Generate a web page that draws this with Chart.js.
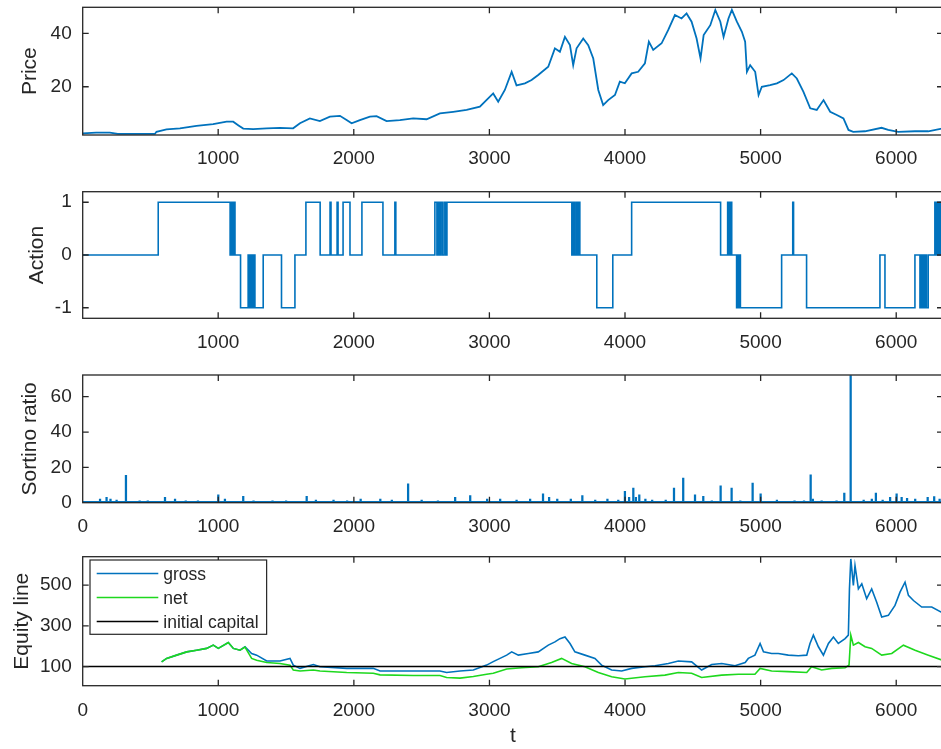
<!DOCTYPE html>
<html>
<head>
<meta charset="utf-8">
<title>Trading panels</title>
<script src="https://cdn.jsdelivr.net/npm/chart.js@4.4.1/dist/chart.umd.min.js"></script>
<style>
  html, body { margin: 0; padding: 0; background: #fff; overflow: hidden; width: 941px; height: 749px; }
  canvas { position: absolute; left: 0; top: 0; }
</style>
</head>
<body>
<canvas id="pPrice" width="960" height="749"></canvas>
<canvas id="pAction" width="960" height="749"></canvas>
<canvas id="pSortino" width="960" height="749"></canvas>
<canvas id="pEquity" width="960" height="749"></canvas>
<script>
// axis ticks
const X_MAX = 6345;
const xTicksTop = [1000, 2000, 3000, 4000, 5000, 6000];
const xTicksBottom = [0, 1000, 2000, 3000, 4000, 5000, 6000];
const priceTicks = [20, 40];
const actionTicks = [-1, 0, 1];
const sortinoTicks = [0, 20, 40, 60];
const equityTicks = [100, 300, 500];

// price
const priceT = [0, 100, 201, 260, 533, 545, 619, 718, 840, 963, 1062, 1111, 1150, 1185, 1258, 1357, 1455, 1553, 1603, 1676,
  1750, 1824, 1898, 1947, 1984, 2045, 2119, 2168, 2242, 2340, 2438, 2537, 2635, 2733, 2832, 2930, 2967, 3028, 3065, 3114,
  3164, 3200, 3262, 3311, 3360, 3434, 3483, 3520, 3557, 3594, 3618, 3643, 3692, 3729, 3766, 3803, 3839, 3876, 3926, 3962,
  3999, 4049, 4097, 4147, 4176, 4208, 4270, 4319, 4368, 4417, 4454, 4491, 4528, 4557, 4580, 4629, 4666, 4703, 4727, 4763,
  4788, 4825, 4862, 4886, 4899, 4923, 4960, 4985, 5009, 5070, 5120, 5169, 5230, 5267, 5316, 5366, 5414, 5464, 5513, 5562,
  5611, 5648, 5683, 5769, 5892, 5941, 6015, 6138, 6236, 6345];
const priceV = [2.5, 2.8, 2.8, 2.3, 2.3, 3.1, 4.0, 4.4, 5.3, 6.0, 6.9, 6.9, 5.5, 4.3, 4.1, 4.4, 4.6, 4.4, 6.3, 8.1,
  7.1, 8.8, 9.1, 7.5, 6.3, 7.5, 8.8, 9.0, 7.1, 7.5, 8.1, 7.8, 10.0, 10.6, 11.3, 12.5, 14.4, 17.5, 14.4, 18.8,
  25.6, 20.5, 21.3, 22.5, 24.4, 27.5, 34.4, 33.1, 38.7, 35.6, 28.1, 34.4, 38.1, 35.6, 30.6, 18.8, 13.1, 15.0, 16.9, 21.9,
  21.3, 25.0, 25.6, 28.8, 36.9, 33.8, 36.3, 41.3, 46.9, 45.6, 47.5, 44.4, 38.1, 30.6, 39.4, 43.1, 48.8, 44.4, 38.7, 45.6,
  48.8, 44.4, 40.6, 36.9, 25.6, 28.1, 25.6, 16.9, 20.0, 20.6, 21.3, 22.5, 25.0, 23.1, 18.1, 11.9, 11.3, 15.0, 10.6, 9.4,
  8.1, 3.8, 3.1, 3.3, 4.6, 3.8, 3.1, 3.3, 3.3, 4.4];

// action: value switches to actV[i] at time actT[i]
const actT = [1, 558, 1088, 1094, 1100, 1106, 1112, 1118, 1124, 1165,
  1221, 1228, 1235, 1242, 1250, 1257, 1264, 1271, 1332, 1467,
  1566, 1647, 1752, 1825, 1832, 1877, 1884, 1921, 1972, 2060,
  2215, 2303, 2310, 2598, 2613, 2620, 2630, 2640, 2652, 2665,
  2677, 2687, 3608, 3618, 3628, 3640, 3650, 3660, 3667, 3792,
  3910, 4049, 4705, 4757, 4763, 4769, 4775, 4781, 4787, 4823,
  4830, 4837, 4844, 4851, 5155, 5237, 5243, 5339, 5880, 5917,
  6138, 6175, 6183, 6191, 6199, 6207, 6215, 6223, 6236, 6285,
  6292, 6299, 6306, 6313, 6320, 6327, 6334, 6341, 6345];
const actV = [0, 1, 0, 1, 0, 1, 0, 1, 0, -1,
  0, -1, 0, -1, 0, -1, 0, -1, 0, -1,
  0, 1, 0, 1, 0, 1, 0, 1, 0, 1,
  0, 1, 0, 1, 0, 1, 0, 1, 0, 1,
  0, 1, 0, 1, 0, 1, 0, 1, 0, -1,
  0, 1, 0, 1, 0, 1, 0, 1, 0, -1,
  0, -1, 0, -1, 0, 1, 0, -1, 0, -1,
  0, -1, 0, -1, 0, -1, 0, -1, 0, 1,
  0, 1, 0, 1, 0, 1, 0, 1, 1];

// sortino ratio spikes and the near-zero floor
const sortT = [128, 176, 205, 250, 319, 420, 480, 607, 681, 760, 850, 1000, 1049, 1184, 1260, 1400, 1500, 1652, 1720, 1850,
  1950, 2050, 2195, 2280, 2400, 2500, 2620, 2747, 2858, 2983, 3079, 3200, 3300, 3395, 3440, 3500, 3600, 3685, 3780, 3870,
  3950, 3999, 4030, 4061, 4080, 4105, 4150, 4200, 4300, 4361, 4429, 4516, 4577, 4640, 4705, 4786, 4850, 4941, 5000, 5120,
  5250, 5320, 5369, 5385, 5450, 5560, 5617, 5664, 5760, 5820, 5850, 5900, 5955, 6003, 6040, 6080, 6140, 6232, 6280, 6320];
const sortV = [2, 3, 2, 1.5, 15.5, 1, 1, 3, 2, 1, 1, 4.5, 2, 3.6, 1, 1, 1, 3.6, 1.5, 1.5,
  1, 2, 2, 1.5, 10.7, 1.5, 1, 3, 4, 2, 2, 1.5, 2, 5, 3, 2, 2, 4, 1.5, 2,
  1.5, 6.4, 3, 8.3, 3, 4.5, 2, 1.5, 1.5, 8.3, 14, 4.5, 3.6, 1, 9.6, 8.3, 1, 11.1, 5, 1.5,
  1, 1, 15.8, 2, 1, 1, 5.5, 72, 1.5, 2, 5.5, 1.5, 3, 5, 3, 2.5, 2, 3, 3.5, 2];
const sortFloor = 0.4;

// equity lines
const grossT = [582, 619, 693, 767, 840, 914, 963, 1000, 1074, 1111, 1160, 1197, 1246, 1283, 1357, 1455, 1529, 1553, 1603, 1701,
  1750, 1947, 2143, 2193, 2438, 2635, 2684, 2783, 2881, 2979, 3028, 3127, 3164, 3213, 3287, 3360, 3434, 3483, 3520, 3557,
  3594, 3630, 3704, 3778, 3827, 3901, 3975, 4049, 4147, 4221, 4319, 4393, 4491, 4565, 4639, 4713, 4811, 4886, 4909, 4958,
  4996, 5021, 5081, 5130, 5204, 5278, 5340, 5364, 5389, 5426, 5463, 5500, 5537, 5573, 5623, 5647, 5655, 5665, 5684, 5696,
  5721, 5746, 5782, 5819, 5856, 5893, 5942, 5991, 6028, 6065, 6090, 6127, 6188, 6262, 6345];
const grossV = [123, 140, 156, 172, 180, 189, 205, 189, 218, 189, 180, 197, 164, 156, 127, 127, 140, 107, 91, 110,
  99, 91, 91, 78, 78, 78, 71, 78, 83, 107, 124, 156, 172, 156, 164, 172, 205, 221, 237, 245,
  213, 172, 156, 140, 107, 83, 78, 91, 99, 104, 115, 127, 123, 83, 110, 115, 104, 120, 140, 156,
  213, 172, 164, 164, 156, 153, 156, 213, 254, 197, 156, 213, 245, 213, 237, 254, 481, 628, 498, 595,
  481, 506, 433, 481, 416, 343, 351, 400, 465, 514, 449, 424, 392, 392, 362];
const netT = [582, 619, 693, 767, 840, 914, 963, 1000, 1074, 1111, 1160, 1197, 1246, 1283, 1357, 1455, 1529, 1553, 1603, 1701,
  1750, 1947, 2143, 2193, 2438, 2635, 2684, 2783, 2881, 2979, 3028, 3127, 3237, 3360, 3458, 3532, 3606, 3704, 3803, 3901,
  3999, 4147, 4294, 4393, 4491, 4565, 4713, 4836, 4958, 4996, 5081, 5204, 5340, 5376, 5450, 5525, 5623, 5652, 5665, 5684,
  5721, 5770, 5819, 5893, 5967, 6053, 6139, 6237, 6345];
const netV = [123, 140, 156, 172, 180, 189, 205, 189, 218, 189, 180, 195, 140, 131, 120, 115, 107, 83, 78, 83,
  78, 71, 67, 59, 56, 56, 46, 43, 51, 62, 67, 88, 94, 99, 120, 140, 115, 99, 71, 50,
  39, 50, 58, 71, 67, 46, 58, 62, 62, 91, 78, 75, 71, 99, 83, 91, 94, 107, 254, 205,
  218, 197, 189, 156, 164, 205, 180, 156, 130];
const initialCapital = 100;

const FONT = '"Liberation Sans", Helvetica, Arial, sans-serif';
const AX = '#262626';
const BLUE = '#0072BD';
const GREEN = '#1ed81e';
const TICK_PX = 19;
const LEGEND_PX = 17.5;
const TITLE_PX = 21;
const CANVAS_W = 960, CANVAS_H = 749;
const PLOT_LEFT = 82.7, PLOT_RIGHT = 943;

function pts(xs, ys) {
  return xs.map((x, i) => ({x: x, y: ys[i]}));
}

// box round the axes with inward ticks on all four sides
const matlabBox = {
  id: 'matlabBox',
  afterDatasetsDraw(chart) {
    const {ctx, chartArea: a} = chart;
    const x = chart.scales.x, y = chart.scales.y;
    const len = 6;
    ctx.save();
    ctx.strokeStyle = AX;
    ctx.lineWidth = 1.3;
    ctx.beginPath();
    x.ticks.forEach(t => {
      const px = x.getPixelForValue(t.value);
      if (px <= a.left + 1 || px >= a.right - 1) return;
      ctx.moveTo(px, a.bottom); ctx.lineTo(px, a.bottom - len);
      ctx.moveTo(px, a.top); ctx.lineTo(px, a.top + len);
    });
    y.ticks.forEach(t => {
      const py = y.getPixelForValue(t.value);
      if (py <= a.top + 1 || py >= a.bottom - 1) return;
      ctx.moveTo(a.left, py); ctx.lineTo(a.left + len, py);
      ctx.moveTo(a.right, py); ctx.lineTo(a.right - len, py);
    });
    ctx.stroke();
    ctx.strokeRect(a.left, a.top, a.right - a.left, a.bottom - a.top);
    ctx.restore();
  }
};

// legend box in the upper left corner of the axes
const boxLegend = {
  id: 'boxLegend',
  afterDatasetsDraw(chart) {
    const {ctx, chartArea: a} = chart;
    const items = chart.data.datasets.filter(d => d.label);
    ctx.save();
    ctx.font = LEGEND_PX + 'px ' + FONT;
    const left = a.left + 7.3, top = a.top + 3.3;
    const tw = Math.max(...items.map(d => ctx.measureText(d.label).width));
    const w = 73.3 + tw + 8, h = 74.3;
    ctx.fillStyle = '#fff';
    ctx.fillRect(left, top, w, h);
    ctx.strokeStyle = AX;
    ctx.lineWidth = 1.2;
    ctx.strokeRect(left, top, w, h);
    items.forEach((d, i) => {
      const yy = top + 13.5 + i * 24;
      ctx.strokeStyle = d.borderColor;
      ctx.lineWidth = d.borderWidth;
      ctx.beginPath();
      ctx.moveTo(left + 6.7, yy);
      ctx.lineTo(left + 68.3, yy);
      ctx.stroke();
      ctx.fillStyle = AX;
      ctx.textBaseline = 'middle';
      ctx.fillText(d.label, left + 73.3, yy + 2);
    });
    ctx.restore();
  }
};

function panel(id, p, datasets, extra) {
  const xh = p.xTitle ? CANVAS_H - p.bottom : 40;
  return new Chart(document.getElementById(id), {
    type: 'line',
    data: {datasets: datasets},
    plugins: [matlabBox].concat(extra || []),
    options: {
      responsive: false,
      animation: false,
      events: [],
      devicePixelRatio: 1,
      layout: {padding: {top: p.top, left: 0, right: CANVAS_W - PLOT_RIGHT, bottom: CANVAS_H - p.bottom - xh}},
      elements: {point: {radius: 0}, line: {tension: 0}},
      plugins: {legend: {display: false}, tooltip: {enabled: false}},
      scales: {
        x: {
          type: 'linear', min: p.xMin, max: X_MAX, offset: false,
          grid: {display: false, drawTicks: false},
          border: {display: false},
          afterBuildTicks: s => { s.ticks = p.xTicks.map(v => ({value: v})); },
          afterFit: s => { s.height = xh; s.paddingLeft = 0; s.paddingRight = 0; },
          ticks: {autoSkip: false, maxRotation: 0, padding: p.xPad, color: AX,
                  font: {family: FONT, size: TICK_PX}, callback: v => String(v)},
          title: {display: !!p.xTitle, text: p.xTitle || '', color: AX,
                  font: {family: FONT, size: TITLE_PX}, padding: {top: 0, bottom: 0}}
        },
        y: {
          type: 'linear', min: p.yMin, max: p.yMax,
          grid: {display: false, drawTicks: false},
          border: {display: false},
          afterBuildTicks: s => { s.ticks = p.yTicks.map(v => ({value: v})); },
          afterFit: s => { s.width = PLOT_LEFT; s.paddingTop = 0; s.paddingBottom = 0; },
          ticks: {autoSkip: false, padding: 11, color: AX,
                  font: {family: FONT, size: TICK_PX}, callback: v => String(v)},
          title: {display: true, text: p.yTitle, color: AX,
                  font: {family: FONT, size: TITLE_PX}, padding: {top: p.yTitlePad, bottom: 0}}
        }
      }
    }
  });
}

panel('pPrice',
  {top: 7.3, bottom: 135, xMin: 1, xTicks: xTicksTop, xPad: 12.5,
   yMin: 1.9, yMax: 49.8, yTicks: priceTicks, yTitle: 'Price', yTitlePad: 17.8},
  [{data: pts(priceT, priceV), borderColor: BLUE, borderWidth: 1.8}]);

panel('pAction',
  {top: 191.7, bottom: 318.3, xMin: 1, xTicks: xTicksTop, xPad: 13,
   yMin: -1.2, yMax: 1.2, yTicks: actionTicks, yTitle: 'Action', yTitlePad: 24.4},
  [{data: pts(actT, actV), borderColor: BLUE, borderWidth: 1.6, stepped: true}]);

panel('pSortino',
  {top: 375, bottom: 502.7, xMin: 0, xTicks: xTicksBottom, xPad: 13,
   yMin: 0, yMax: 72.3, yTicks: sortinoTicks, yTitle: 'Sortino ratio', yTitlePad: 17.8},
  [{type: 'bar', data: pts(sortT, sortV), backgroundColor: BLUE, barThickness: 1.6, borderWidth: 0},
   {data: [{x: 0, y: sortFloor}, {x: X_MAX, y: sortFloor}], borderColor: BLUE, borderWidth: 2}]);

panel('pEquity',
  {top: 556.7, bottom: 685.7, xMin: 0, xTicks: xTicksBottom, xPad: 14, xTitle: 't',
   yMin: 6, yMax: 639, yTicks: equityTicks, yTitle: 'Equity line', yTitlePad: 9.4},
  [{label: 'gross', data: pts(grossT, grossV), borderColor: BLUE, borderWidth: 1.6, order: 3},
   {label: 'net', data: pts(netT, netV), borderColor: GREEN, borderWidth: 1.6, order: 2},
   {label: 'initial capital', data: [{x: 0, y: initialCapital}, {x: X_MAX, y: initialCapital}],
    borderColor: '#000000', borderWidth: 1.6, order: 1}],
  [boxLegend]);
</script>
</body>
</html>
